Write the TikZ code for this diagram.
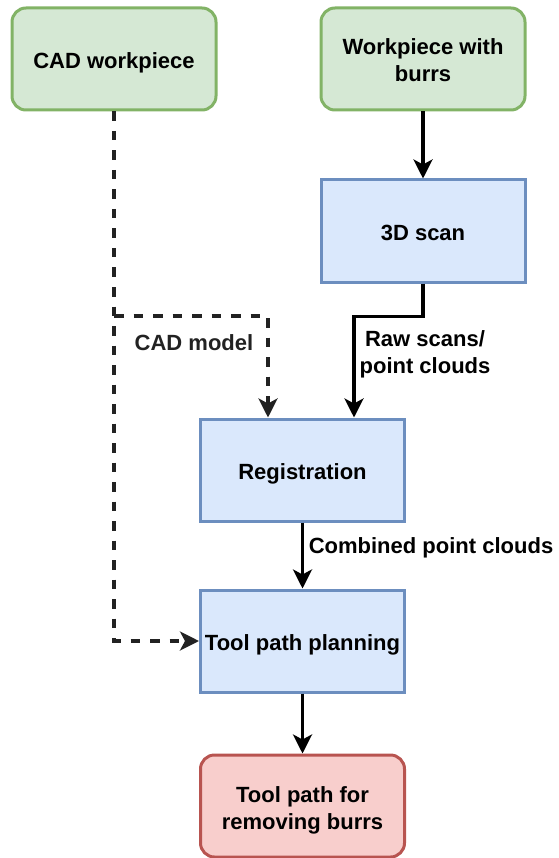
\documentclass[tikz,border=0pt]{standalone}
\usepackage{fontspec}
\setmainfont{Liberation Sans}
\usetikzlibrary{arrows.meta}
\definecolor{greenfill}{HTML}{D5E8D4}
\definecolor{greenline}{HTML}{82B366}
\definecolor{bluefill}{HTML}{DAE8FC}
\definecolor{blueline}{HTML}{6C8EBF}
\definecolor{redfill}{HTML}{F8CECC}
\definecolor{redline}{HTML}{B85450}
\definecolor{darkink}{HTML}{222222}
\begin{document}
\begin{tikzpicture}[x=1pt,y=-1pt,
  boxfont/.style={font=\fontsize{22}{26.7}\selectfont\bfseries},
  box/.style={draw, line width=3pt, minimum width=204pt, minimum height=102pt,
    inner sep=0pt, align=center, boxfont, text height=18.2pt, text depth=0pt},
  startbox/.style={box, rounded corners=14pt, fill=greenfill, draw=greenline},
  stepbox/.style={box, fill=bluefill, draw=blueline},
  endbox/.style={box, rounded corners=14pt, fill=redfill, draw=redline},
  lbl/.style={inner sep=0pt, align=center, boxfont},
  flow/.style={line width=3.3pt, -{Stealth[length=19pt,width=19pt,inset=5pt]}},
  dflow/.style={flow, darkink, dash pattern=on 9.5pt off 10pt}]
  \useasboundingbox (0,0) rectangle (558,858);

  % sources
  \node[startbox] (cad) at (114,59) {CAD workpiece};
  \node[startbox] (wp) at (423,59) {};
  \node[lbl] (wptext) at (423,60) {Workpiece with\\burrs};
  % processing steps
  \node[stepbox] (scan) at (423,231) {3D scan};
  \node[stepbox] (reg) at (302.5,470) {Registration};
  \node[stepbox] (plan) at (302.5,641) {Tool path planning};
  % result
  \node[endbox] (out) at (302.5,806) {};
  \node[lbl] (outtext) at (302.5,810.5) {Tool path for\\removing burrs};

  % edges
  \draw[flow] (wp) -- (scan);
  \draw[flow] (scan.south) -- ++(0,33) -| ([xshift=51.5pt]reg.north);
  \draw[flow] (reg) -- (plan);
  \draw[flow] (plan) -- (out);
  \draw[dflow] (cad.south) |- (plan.west);
  \draw[dflow] (cad.south |- 0,316) -| ([xshift=-34.5pt]reg.north);

  % edge labels
  \node[lbl, text=darkink] (cadlbl) at (194,342.5) {CAD model};
  \node[lbl] (rawlbl) at (425,354.5) {Raw scans/\\point clouds};
  \node[lbl] (comblbl) at (431,548.3) {Combined point clouds};
\end{tikzpicture}
\end{document}
